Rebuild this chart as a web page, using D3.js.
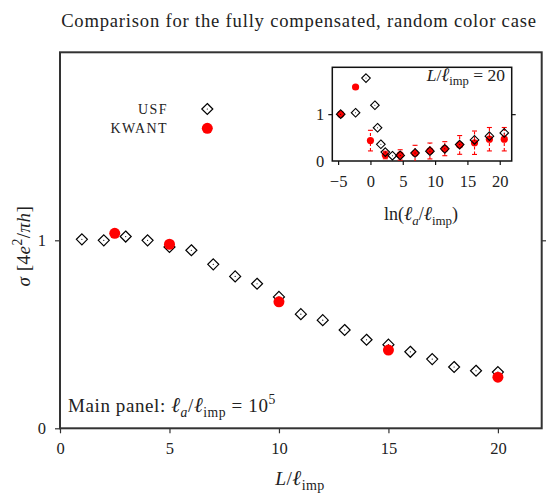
<!DOCTYPE html>
<html><head><meta charset="utf-8">
<script src="https://cdn.jsdelivr.net/npm/d3@7"></script>
<style>
body{margin:0;background:#fff}
text{font-family:"Liberation Serif","Times New Roman",serif;fill:#222}
</style>
</head><body>
<svg id="c" width="546" height="494"></svg>
<script>
// ---------- data ----------
const mainL      = [1,2,3,4,5,6,7,8,9,10,11,12,13,14,15,16,17,18,19,20];
const mainUSF    = [1.005,1.0,1.02,1.0,0.965,0.947,0.872,0.808,0.769,0.699,0.607,0.575,0.523,0.471,0.445,0.407,0.368,0.326,0.306,0.299];
const mainKwantL = [2.5,5,10,15,20];
const mainKwant  = [1.037,0.979,0.673,0.416,0.272];
const mainXTicks = [0,5,10,15,20];
const mainYTicks = [0,1];

const insetUsfX  = [-4.6,-2.3,-0.69,0.69,1.1,1.61,2.3,3.4,4.6,6.9,9.2,11.5,13.8,16.1,18.4,20.7];
const insetUsf   = [1.0,1.03,1.77,1.19,0.71,0.357,0.19,0.113,0.12,0.17,0.21,0.26,0.35,0.45,0.53,0.6];
const insetKwX   = [-4.6,-2.3,0,2.3,4.6,6.9,9.2,11.5,13.8,16.1,18.4,20.7];
const insetKw    = [1.0,1.58,0.435,0.128,0.13,0.165,0.214,0.263,0.343,0.39,0.465,0.465];
const insetKwErr = [0,0,0.22,0.08,0.11,0.17,0.17,0.15,0.2,0.25,0.25,0.25];
const insetXTicks = [-5,0,5,10,15,20];
const insetYTicks = [0,1];

const svg = d3.select("#c");
const RED = "#ff0000";
const FONT = '"Liberation Serif","Times New Roman",serif';

// math text helper; "I" = enlarged italic (for ℓ)
function mtext(sel, parts, size){
  let prev = 0;
  parts.forEach(([t, s])=>{
    const ts = sel.append("tspan").text(t);
    if (s==="i"||s==="isub"||s==="I") ts.attr("font-style","italic");
    if (s==="I") ts.attr("font-size", size*1.1);
    let shift = 0;
    if (s==="sub"||s==="isub"){ ts.attr("font-size", size*0.72); shift = size*0.25; }
    else if (s==="sup"){ ts.attr("font-size", size*0.72); shift = -size*0.4; }
    ts.attr("dy", shift - prev);
    prev = shift;
  });
  return sel;
}
function diamond(r){ return `M0,${-r}L${r},0L0,${r}L${-r},0Z`; }

// ---------- main panel ----------
const M = {l:60, r:541.7, t:52.3, b:428.3};
const x = d3.scaleLinear().domain([0,22]).range([M.l, M.r]);
const y = d3.scaleLinear().domain([0,2]).range([M.b, M.t]);

svg.append("text").attr("x", 299).attr("y", 27).attr("text-anchor","middle")
  .attr("font-size", 18.6).attr("letter-spacing",0.8)
  .text("Comparison for the fully compensated, random color case");

const gx = svg.append("g").attr("transform",`translate(0,${M.b})`)
  .call(d3.axisBottom(x).tickValues(mainXTicks).tickSize(5).tickSizeOuter(0).tickPadding(9).tickFormat(d3.format("d")));
const gy = svg.append("g").attr("transform",`translate(${M.l},0)`)
  .call(d3.axisLeft(y).tickValues(mainYTicks).tickSize(5).tickSizeOuter(0).tickPadding(9).tickFormat(d3.format("d")));
const gyr = svg.append("g").attr("transform",`translate(${M.r},0)`)
  .call(d3.axisRight(y).tickValues([1]).tickSize(5).tickSizeOuter(0).tickFormat(""));
[gx,gy,gyr].forEach(g=>{
  g.attr("font-family",FONT).attr("font-size",16.5);
  g.select(".domain").remove();
  g.selectAll("line").attr("stroke","#333").attr("stroke-width",1.2);
  g.selectAll("text").attr("fill","#222");
});
svg.append("rect").attr("x",M.l).attr("y",M.t).attr("width",M.r-M.l).attr("height",M.b-M.t)
  .attr("fill","none").attr("stroke","#333").attr("stroke-width",2);

// main markers
const mainPts = mainL.map((L,i)=>({x:L, y:mainUSF[i]}));
const gd = svg.append("g").selectAll("g").data(mainPts).join("g")
  .attr("transform", d=>`translate(${x(d.x)},${y(d.y)})`);
gd.append("path").attr("d", diamond(5.5)).attr("fill","none").attr("stroke","#000").attr("stroke-width",1.2);
gd.append("circle").attr("r",0.6).attr("fill","#000");

svg.append("g").selectAll("circle").data(mainKwantL.map((L,i)=>({x:L,y:mainKwant[i]}))).join("circle")
  .attr("cx", d=>x(d.x)).attr("cy", d=>y(d.y)).attr("r",5.5).attr("fill",RED);

// legend
svg.append("text").attr("x",168).attr("y",114).attr("text-anchor","end").attr("font-size",14)
  .attr("letter-spacing",1.4).text("USF");
svg.append("text").attr("x",168).attr("y",132.5).attr("text-anchor","end").attr("font-size",14)
  .attr("letter-spacing",1.4).text("KWANT");
const lg = svg.append("g").attr("transform","translate(207.3,109)");
lg.append("path").attr("d",diamond(5.5)).attr("fill","none").attr("stroke","#000").attr("stroke-width",1.2);
lg.append("circle").attr("r",0.6).attr("fill","#000");
svg.append("circle").attr("cx",207.3).attr("cy",128.3).attr("r",5.5).attr("fill",RED);

// main panel note
mtext(svg.append("text").attr("x",68).attr("y",412).attr("font-size",19).attr("letter-spacing",0.6),
  [["Main panel:  ","r"],["ℓ","I"],["a","isub"],["/","r"],["ℓ","I"],["imp","sub"],["  =  10","r"],["5","sup"]],19);

// axis labels
mtext(svg.append("text").attr("x",300).attr("y",485).attr("text-anchor","middle").attr("font-size",19.5).attr("letter-spacing",0.4),
  [["L","i"],["/","r"],["ℓ","I"],["imp","sub"]],19.5);
mtext(svg.append("text").attr("transform","translate(30,246) rotate(-90)").attr("text-anchor","middle")
  .attr("font-size",19).attr("letter-spacing",0.5),
  [["σ","i"],["  [4","r"],["e","i"],["2","sup"],["/","r"],["πh","i"],["]","r"]],19);

// ---------- inset ----------
const I = {l:332.3, r:511.7, t:67.3, b:161};
const xi = d3.scaleLinear().domain([-5.9,21.85]).range([I.l, I.r]);
const yi = d3.scaleLinear().domain([0,2]).range([I.b, I.t]);

svg.append("rect").attr("x",I.l).attr("y",I.t).attr("width",I.r-I.l).attr("height",I.b-I.t)
  .attr("fill","#fff").attr("stroke","#111").attr("stroke-width",1.5);
const ix = svg.append("g").attr("transform",`translate(0,${I.b})`)
  .call(d3.axisBottom(xi).tickValues(insetXTicks).tickSize(4).tickSizeOuter(0).tickPadding(10)
  .tickFormat(d=> d<0 ? "\u2212"+Math.abs(d) : String(d)));
const iy = svg.append("g").attr("transform",`translate(${I.l},0)`)
  .call(d3.axisLeft(yi).tickValues(insetYTicks).tickSize(4).tickSizeOuter(0).tickPadding(4).tickFormat(d3.format("d")));
const iyr = svg.append("g").attr("transform",`translate(${I.r},0)`)
  .call(d3.axisRight(yi).tickValues([1]).tickSize(4).tickSizeOuter(0).tickFormat(""));
iy.selectAll(".tick").filter(d=>d===0).select("line").remove();
[ix,iy,iyr].forEach(g=>{
  g.attr("font-family",FONT).attr("font-size",16.5);
  g.select(".domain").remove();
  g.selectAll("line").attr("stroke","#111").attr("stroke-width",1.2);
  g.selectAll("text").attr("fill","#222");
});

// error bars
const kwPts = insetKwX.map((v,i)=>({x:v,y:insetKw[i],e:insetKwErr[i]})).filter(d=>d.e>0);
const eb = svg.append("g").attr("stroke",RED).attr("stroke-width",1.1).attr("fill","none");
eb.selectAll("line.v").data(kwPts).join("line").attr("class","v")
  .attr("x1",d=>xi(d.x)).attr("x2",d=>xi(d.x))
  .attr("y1",d=>Math.min(I.b, yi(d.y-d.e))).attr("y2",d=>yi(d.y+d.e))
  .attr("stroke-dasharray","3,2");
eb.selectAll("line.t").data(kwPts).join("line").attr("class","t")
  .attr("x1",d=>xi(d.x)-2.5).attr("x2",d=>xi(d.x)+2.5).attr("y1",d=>yi(d.y+d.e)).attr("y2",d=>yi(d.y+d.e));
eb.selectAll("line.b").data(kwPts.filter(d=>d.y-d.e>0.02)).join("line").attr("class","b")
  .attr("x1",d=>xi(d.x)-2.5).attr("x2",d=>xi(d.x)+2.5).attr("y1",d=>yi(d.y-d.e)).attr("y2",d=>yi(d.y-d.e));

svg.append("g").selectAll("circle").data(insetKwX.map((v,i)=>({x:v,y:insetKw[i]}))).join("circle")
  .attr("cx",d=>xi(d.x)).attr("cy",d=>yi(d.y)).attr("r",3.6).attr("fill",RED);

const gi = svg.append("g").selectAll("g").data(insetUsfX.map((v,i)=>({x:v,y:insetUsf[i]}))).join("g")
  .attr("transform",d=>`translate(${xi(d.x)},${yi(d.y)})`);
gi.append("path").attr("d",diamond(4.3)).attr("fill","none").attr("stroke","#000").attr("stroke-width",1.1);
gi.append("circle").attr("r",0.5).attr("fill","#000");

mtext(svg.append("text").attr("x",505).attr("y",81).attr("text-anchor","end").attr("font-size",17.5),
  [["L","i"],["/","r"],["ℓ","I"],["imp","sub"],["  =  20","r"]],17.5);
mtext(svg.append("text").attr("x",421).attr("y",220).attr("text-anchor","middle").attr("font-size",18),
  [["ln(","r"],["ℓ","I"],["a","isub"],["/","r"],["ℓ","I"],["imp","sub"],[")","r"]],18);
</script>
</body></html>
